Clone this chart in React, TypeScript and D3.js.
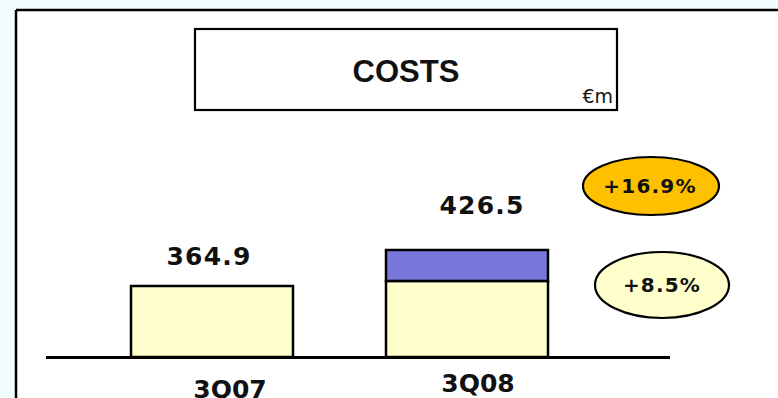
import React from "react";
import * as d3 from "d3";

const categories = ["3Q07", "3Q08"];
const baseCosts = [364.9, 373.5];
const extraCosts = [0, 53.0];
const totalLabels = ["364.9", "426.5"];
const growthLabels = ["+16.9%", "+8.5%"];
const title = "COSTS";
const unit = "€m";

const W = 778;
const H = 398;

export default function App() {
  const x = d3.scaleBand<string>().domain(categories).range([131, 548]).paddingInner(93 / 255).paddingOuter(0);
  const y = d3.scaleLinear().domain([243.4, 426.5]).range([357, 250]);
  const bw = x.bandwidth();

  const totals = categories.map((_, i) => baseCosts[i] + extraCosts[i]);
  const labelDy = [-21, -36];
  const labelDx = [-3, 15];
  const catDx = [18, 11];
  const catY = [398, 392];

  const ellipses = [
    { cx: 651, cy: 186, rx: 68, ry: 29, fill: "#FFC000" },
    { cx: 662, cy: 285, rx: 67, ry: 33, fill: "#FFFFCC" },
  ];

  return (
    <svg width={W} height={H} style={{ position: "fixed", left: 0, top: 0 }}>
      <rect x={0} y={0} width={W} height={H} fill="#F2FEFE" />
      <rect x={16} y={10} width={W} height={H} fill="#FFFFFF" />
      <line x1={16} y1={10} x2={W} y2={10} stroke="#000" strokeWidth={2.5} />
      <line x1={16} y1={10} x2={16} y2={H} stroke="#000" strokeWidth={2.5} />

      <rect x={195} y={29} width={422} height={81} fill="#fff" stroke="#000" strokeWidth={2.2} />
      <text x={406} y={82} textAnchor="middle" fontFamily="Liberation Sans, Arial, sans-serif" fontWeight="bold" fontSize={31} fill="#111">
        {title}
      </text>
      <text x={613} y={103} textAnchor="end" fontFamily="DejaVu Sans, sans-serif" fontSize={19} fill="#111">
        {unit}
      </text>

      {categories.map((c, i) => (
        <g key={c}>
          <rect x={x(c)} y={y(baseCosts[i])} width={bw} height={y.range()[0] - y(baseCosts[i])} fill="#FFFFCC" stroke="#000" strokeWidth={2.5} />
          {extraCosts[i] > 0 && (
            <rect x={x(c)} y={y(totals[i])} width={bw} height={y(baseCosts[i]) - y(totals[i])} fill="#7878DC" stroke="#000" strokeWidth={2.5} />
          )}
          <text x={(x(c) as number) + bw / 2 + labelDx[i]} y={y(totals[i]) + labelDy[i]} textAnchor="middle" fontFamily="DejaVu Sans, Verdana, sans-serif" fontWeight="bold" fontSize={25} letterSpacing={1.2} fill="#111">
            {totalLabels[i]}
          </text>
          <text x={(x(c) as number) + bw / 2 + catDx[i]} y={catY[i]} textAnchor="middle" fontFamily="DejaVu Sans, Verdana, sans-serif" fontWeight="bold" fontSize={25} fill="#111">
            {c}
          </text>
        </g>
      ))}

      <line x1={46} y1={357.5} x2={670} y2={357.5} stroke="#000" strokeWidth={3} />

      {ellipses.map((e, i) => (
        <g key={i}>
          <ellipse cx={e.cx} cy={e.cy} rx={e.rx} ry={e.ry} fill={e.fill} stroke="#000" strokeWidth={2.2} />
          <text x={e.cx - (i === 0 ? 1 : 0)} y={e.cy + 7} textAnchor="middle" fontFamily="DejaVu Sans, Verdana, sans-serif" fontWeight="bold" fontSize={20} letterSpacing={1.2} fill="#111">
            {growthLabels[i]}
          </text>
        </g>
      ))}
    </svg>
  );
}
